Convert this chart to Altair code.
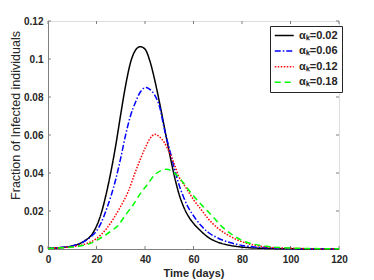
import altair as alt
import pandas as pd

# ---- data ----
series_names = ["αₖ=0.02", "αₖ=0.06", "αₖ=0.12", "αₖ=0.18"]
series_colors = ["#000000", "#0000FF", "#FF0000", "#00FF00"]
series_dash = [[1, 0], [6, 2, 1.5, 2], [1.5, 1.5], [6, 4]]

t_k002 = [0, 5, 10, 15, 18, 20, 22, 24, 26, 28, 30, 32, 34, 36, 38, 40, 42, 44, 46, 48, 50, 52, 54, 56, 58, 60, 63, 66, 70, 75, 80, 90, 100, 110, 120]
v_k002 = [0.0003, 0.0007, 0.0016, 0.0042, 0.0075, 0.012, 0.019, 0.029, 0.041, 0.055, 0.071, 0.086, 0.098, 0.1045, 0.1065, 0.1052, 0.099, 0.089, 0.077, 0.064, 0.051, 0.039, 0.029, 0.022, 0.017, 0.0135, 0.0095, 0.0062, 0.0036, 0.0019, 0.001, 0.0003, 0.0001, 0.0, 0.0]

t_k006 = [0, 5, 10, 15, 18, 20, 22, 24, 26, 28, 30, 32, 34, 36, 38, 40.5, 42, 44, 46, 48, 50, 52, 54, 56, 58, 60, 63, 66, 70, 75, 80, 85, 90, 100, 110, 120]
v_k006 = [0.0004, 0.0008, 0.0016, 0.004, 0.0068, 0.0095, 0.014, 0.0205, 0.028, 0.037, 0.048, 0.060, 0.070, 0.077, 0.0825, 0.085, 0.084, 0.081, 0.075, 0.063, 0.053, 0.043, 0.034, 0.027, 0.0215, 0.0175, 0.0125, 0.0088, 0.0058, 0.0034, 0.0019, 0.0011, 0.0006, 0.0002, 0.0001, 0.0]

t_k012 = [0, 5, 10, 15, 20, 24, 27, 30, 33, 36, 38, 40, 42, 44, 46, 48, 50, 52, 54, 56, 58, 60, 63, 66, 70, 74, 78, 82, 86, 90, 100, 110, 120]
v_k012 = [0.0004, 0.0007, 0.0012, 0.0025, 0.0055, 0.0105, 0.016, 0.0225, 0.030, 0.0405, 0.047, 0.053, 0.058, 0.0604, 0.059, 0.056, 0.051, 0.045, 0.038, 0.034, 0.030, 0.026, 0.021, 0.016, 0.011, 0.0075, 0.0048, 0.003, 0.0018, 0.001, 0.0004, 0.0001, 0.0]

t_k018 = [0, 5, 10, 15, 18, 20, 23, 26, 29, 32, 35, 38, 41, 44, 47, 49, 51, 53, 56, 59, 62, 65, 68, 72, 76, 80, 85, 90, 95, 100, 110, 120]
v_k018 = [0.0003, 0.0006, 0.001, 0.002, 0.0032, 0.0045, 0.0068, 0.0095, 0.0125, 0.018, 0.023, 0.029, 0.034, 0.039, 0.0415, 0.042, 0.041, 0.039, 0.0345, 0.0295, 0.025, 0.021, 0.017, 0.0115, 0.0075, 0.0045, 0.0025, 0.0014, 0.0008, 0.0005, 0.0002, 0.0001]

x_ticks = [0, 20, 40, 60, 80, 100, 120]
y_ticks = [0, 0.02, 0.04, 0.06, 0.08, 0.1, 0.12]

# ---- build table ----
rows = []
for name, ts, vs in zip(series_names, [t_k002, t_k006, t_k012, t_k018], [v_k002, v_k006, v_k012, v_k018]):
    for t, v in zip(ts, vs):
        rows.append({"t": t, "v": v, "series": name})
df = pd.DataFrame(rows)
df_xt = pd.DataFrame({"t": x_ticks})
df_yt = pd.DataFrame({"v": y_ticks})

W, H = 291, 228
FONT = "Liberation Sans"
GRAY = "#808080"
TXT = "#262626"

xscale = alt.Scale(domain=[0, 120], nice=False, zero=False)
yscale = alt.Scale(domain=[0, 0.12], nice=False, zero=False)

xaxis = alt.Axis(values=x_ticks, format="d", grid=False, tickSize=0,
                 domainColor=GRAY, labelColor=TXT, labelFont=FONT, labelFontSize=10,
                 labelFontWeight="bold", labelPadding=5, titleFont=FONT,
                 titleFontSize=11, titleFontWeight="bold", titleColor=TXT,
                 titlePadding=3, labelFlush=False)
yaxis = alt.Axis(values=y_ticks, format=".2~f", grid=False, tickSize=0,
                 domainColor=GRAY, labelColor=TXT, labelFont=FONT, labelFontSize=10,
                 labelFontWeight="bold", labelPadding=5, titleFont=FONT,
                 titleFontSize=12.5, titleFontWeight="normal", titleColor=TXT,
                 titleX=-26, titleY=94, labelFlush=False)

legend = alt.Legend(orient="none", legendX=222, legendY=5, title=None,
                    strokeColor=TXT, fillColor="white", padding=4,
                    symbolType="M-1,0H3", symbolSize=90, symbolStrokeWidth=1.5,
                    labelFont=FONT, labelFontSize=11, labelFontWeight="bold",
                    labelColor=TXT, rowPadding=3.6, labelOffset=14)

XT = "Time (days)"
YT = "Fraction of Infected individuals"

tick_x_bottom = alt.Chart(df_xt).mark_rule(color=GRAY, strokeWidth=1).encode(
    x=alt.X("t:Q", scale=xscale, axis=xaxis, title=XT), y=alt.value(H), y2=alt.value(H - 3))
tick_x_top = alt.Chart(df_xt).mark_rule(color=GRAY, strokeWidth=1).encode(
    x=alt.X("t:Q", scale=xscale, axis=xaxis, title=XT), y=alt.value(0), y2=alt.value(3))
tick_y_left = alt.Chart(df_yt).mark_rule(color=GRAY, strokeWidth=1).encode(
    y=alt.Y("v:Q", scale=yscale, axis=yaxis, title=YT), x=alt.value(0), x2=alt.value(3))
tick_y_right = alt.Chart(df_yt).mark_rule(color=GRAY, strokeWidth=1).encode(
    y=alt.Y("v:Q", scale=yscale, axis=yaxis, title=YT), x=alt.value(W), x2=alt.value(W - 3))

lines = alt.Chart(df).mark_line(strokeWidth=1.5, interpolate="monotone").encode(
    x=alt.X("t:Q", scale=xscale, title=XT, axis=xaxis),
    y=alt.Y("v:Q", scale=yscale, title=YT, axis=yaxis),
    color=alt.Color("series:N", scale=alt.Scale(domain=series_names, range=series_colors),
                    legend=legend),
    strokeDash=alt.StrokeDash("series:N", scale=alt.Scale(domain=series_names, range=series_dash),
                              legend=legend),
    order=alt.Order("t:Q"),
)

chart = alt.layer(tick_x_bottom, tick_x_top, tick_y_left, tick_y_right, lines).properties(
    width=W, height=H,
    autosize=alt.AutoSizeParams(type="none"),
    padding={"left": 40, "top": 13, "right": 20, "bottom": 30},
).configure_view(stroke=GRAY, strokeWidth=1).configure(background="white")

chart.save("out.html", embed_options={"renderer": "svg", "actions": False})
